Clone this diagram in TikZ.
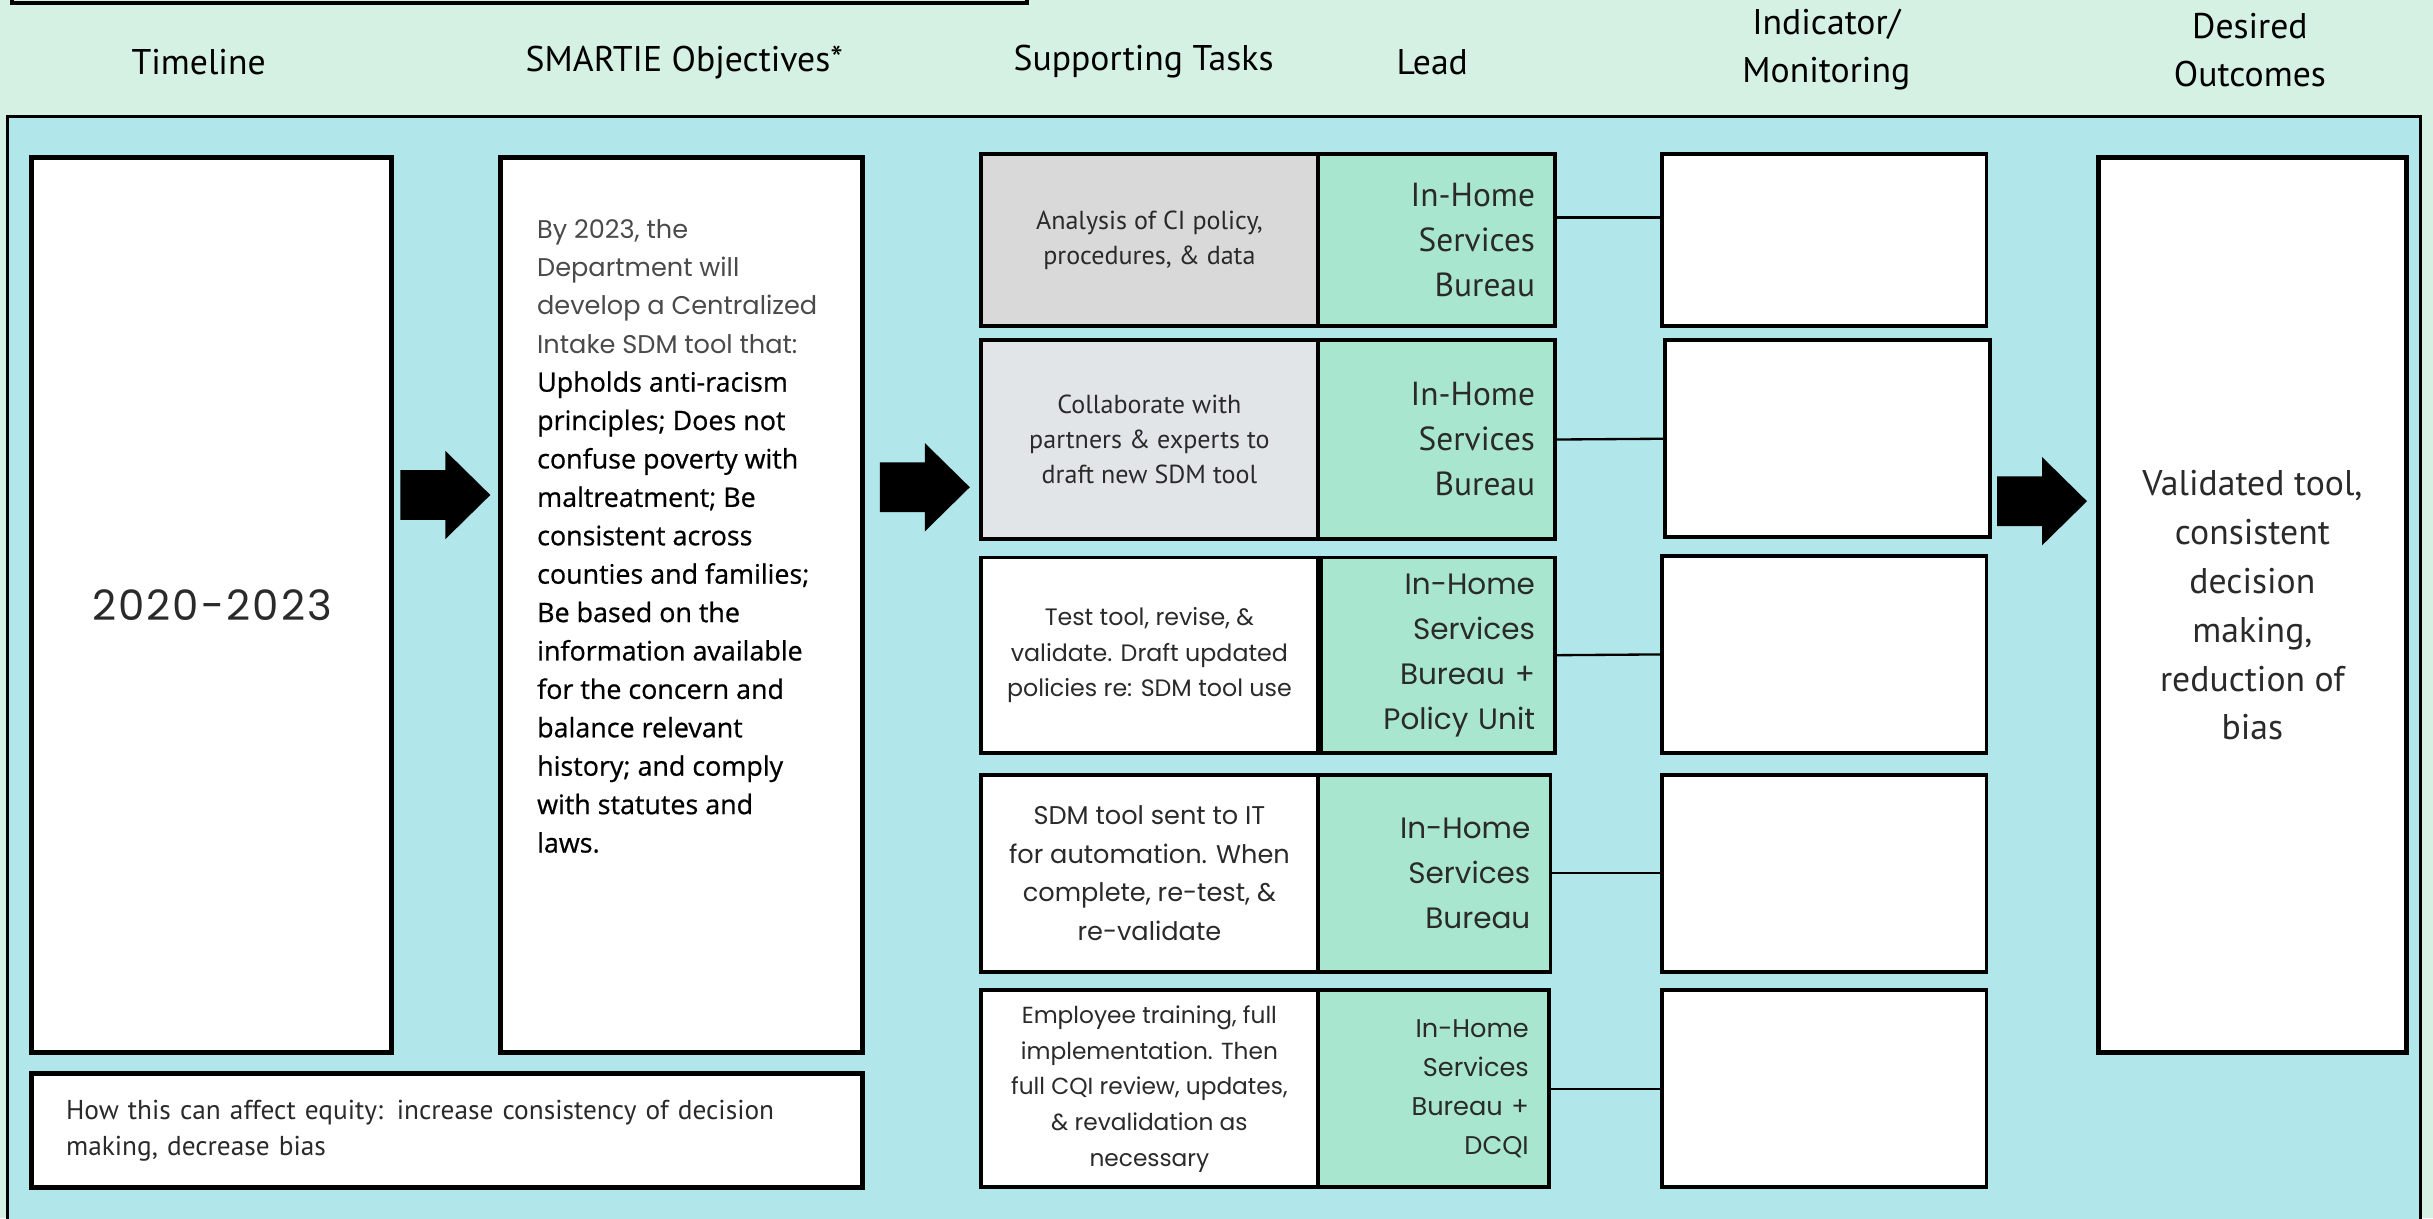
\documentclass[tikz,border=0pt]{standalone}
\usepackage{fontspec}
\setmainfont{PT Sans}
\newfontfamily\widefont{Poppins}
\newfontfamily\objfont[FakeBold=0.7]{Open Sans}
\usetikzlibrary{positioning}
\definecolor{mintbg}{HTML}{D5F1E4}
\definecolor{panelblue}{HTML}{B1E7EA}
\definecolor{leadgreen}{HTML}{A8E6CF}
\definecolor{taskgray}{HTML}{D9D9D9}
\definecolor{taskpale}{HTML}{E1E5E8}
\definecolor{softtext}{HTML}{4A4A4A}
\definecolor{darktext}{HTML}{2A2A2A}
\newcommand{\objsoft}{\widefont\color{softtext}}
\newcommand{\objhard}{\objfont\fontsize{17.3}{24.75}\selectfont\color{black}}
\tikzset{
  head/.style={font={\fontsize{23}{31}\selectfont}, align=center, inner sep=0pt},
  bigbox/.style={draw, line width=3.2pt, fill=white, inner sep=0pt, anchor=north west},
  taskbox/.style={draw, line width=2.5pt, fill=white, minimum width=217pt, inner sep=0pt,
    align=center, anchor=north west, text=darktext},
  leadbox/.style={draw, line width=2.5pt, fill=leadgreen, minimum width=153pt, inner xsep=13pt,
    inner ysep=0pt, text width=127pt, align=right, anchor=north west, text=darktext},
  indbox/.style={draw, line width=2.5pt, fill=white, minimum width=209pt, anchor=north west},
  link/.style={line width=1.5pt},
}
\newcommand{\blockarrow}[1]{\fill (#1) ++(-29,-16) -- ++(29,0) -- ++(0,-12.5) -- ++(29,28.5)
  -- ++(-29,28.5) -- ++(0,-12.5) -- ++(-29,0) -- cycle;}
\begin{document}
\begin{tikzpicture}[x=1pt,y=-1pt]
\useasboundingbox (0,0) rectangle (1568,785);
\fill[mintbg] (0,0) rectangle (1568,785);
\draw[line width=2.5pt] (8,-30) rectangle (662,2);
\node[head] (hdtime) at (128,40) {Timeline};
\node[head] (hdobj) at (441,40) {SMARTIE Objectives*};
\node[head] (hdtask) at (737,40) {Supporting Tasks};
\node[head] (hdlead) at (923,40) {Lead};
\node[head] (hdind) at (1177,32) {Indicator/\\Monitoring};
\node[head] (hdout) at (1450,32) {Desired\\Outcomes};
\draw[fill=panelblue, line width=2pt] (5,75) rectangle (1560,795);
\node[bigbox, minimum width=232pt, minimum height=577pt, text=darktext,
  font={\widefont\fontsize{27}{35}\selectfont\addfontfeatures{LetterSpace=5}}] (time) at (19,100) {2020-2023};
\node[bigbox, minimum width=233pt, minimum height=577pt] (obj) at (321,100) {};
\node[anchor=north west, inner sep=0pt, align=left, font={\fontsize{16.5}{24.75}\selectfont}]
  (objtext) at (346,141) {\objsoft By 2023, the\\\objsoft Department will\\\objsoft develop a Centralized\\\objsoft Intake SDM tool that:\\
  \objhard Upholds anti-racism\\\objhard principles; Does not\\\objhard confuse poverty with\\\objhard maltreatment; Be\\
  \objhard consistent across\\\objhard counties and families;\\\objhard Be based on the\\\objhard information available\\
  \objhard for the concern and\\\objhard balance relevant\\\objhard history; and comply\\\objhard with statutes and\\\objhard laws.};
\node[bigbox, minimum width=535pt, minimum height=74pt, inner xsep=22pt, text width=491pt, align=left,
  font={\fontsize{17.6}{23}\selectfont}, text=darktext] (equity) at (19,690)
  {How this can affect equity: increase consistency of decision\\making, decrease bias};
\node[taskbox, fill=taskgray, minimum height=111pt, font={\fontsize{16.8}{22.5}\selectfont}] (task1) at (631,98)
  {Analysis of CI policy,\\procedures, \& data};
\node[taskbox, fill=taskpale, minimum height=128pt, font={\fontsize{16.8}{22.5}\selectfont}] (task2) at (631,218)
  {Collaborate with\\partners \& experts to\\draft new SDM tool};
\node[taskbox, minimum height=126pt, font={\widefont\fontsize{15.3}{23}\selectfont}] (task3) at (631,358)
  {Test tool, revise, \&\\validate. Draft updated\\policies re: SDM tool use};
\node[taskbox, minimum height=127pt, font={\widefont\fontsize{16.5}{25}\selectfont}] (task4) at (631,498)
  {SDM tool sent to IT\\for automation. When\\complete, re-test, \&\\re-validate};
\node[taskbox, minimum height=127pt, font={\widefont\fontsize{15}{23}\selectfont}] (task5) at (631,637)
  {Employee training, full\\implementation. Then\\full CQI review, updates,\\\& revalidation as\\necessary};
\node[leadbox, minimum height=111pt, font={\fontsize{21.5}{29}\selectfont}] (lead1) at (848,98)
  {In-Home\\Services\\Bureau};
\node[leadbox, minimum height=128pt, font={\fontsize{21.5}{29}\selectfont}] (lead2) at (848,218)
  {In-Home\\Services\\Bureau};
\node[leadbox, minimum height=126pt, minimum width=151pt, text width=125pt, font={\widefont\fontsize{19}{29}\selectfont}] (lead3) at (850,358)
  {In-Home\\Services\\Bureau +\\Policy Unit};
\node[leadbox, minimum height=127pt, minimum width=150pt, text width=124pt, font={\widefont\fontsize{19}{29}\selectfont}] (lead4) at (848,498)
  {In-Home\\Services\\Bureau};
\node[leadbox, minimum height=127pt, minimum width=149pt, text width=123pt, font={\widefont\fontsize{16.5}{25}\selectfont}] (lead5) at (848,637)
  {In-Home\\Services\\Bureau +\\DCQI};
\node[indbox, minimum height=111pt] (ind1) at (1070,98) {};
\node[indbox, minimum height=127pt] (ind2) at (1072,218) {};
\node[indbox, minimum height=127pt] (ind3) at (1070,357) {};
\node[indbox, minimum height=127pt] (ind4) at (1070,498) {};
\node[indbox, minimum height=127pt] (ind5) at (1070,637) {};
\draw[link] ([yshift=14.5pt]lead1.east) -- ([yshift=14.5pt]ind1.west);
\draw[link] (lead2.east) -- (ind2.west);
\draw[link] (lead3.east) -- (ind3.west);
\draw[link] (lead4.east) -- (ind4.west);
\draw[link] (lead5.east) -- (ind5.west);
\node[bigbox, minimum width=198pt, minimum height=577pt, align=center,
  font={\fontsize{23}{31.5}\selectfont}, text=darktext] (out) at (1351,100)
  {Validated tool,\\consistent\\decision\\making,\\reduction of\\bias};
\blockarrow{287,319}
\blockarrow{596,314}
\blockarrow{1316,323}
\end{tikzpicture}
\end{document}
